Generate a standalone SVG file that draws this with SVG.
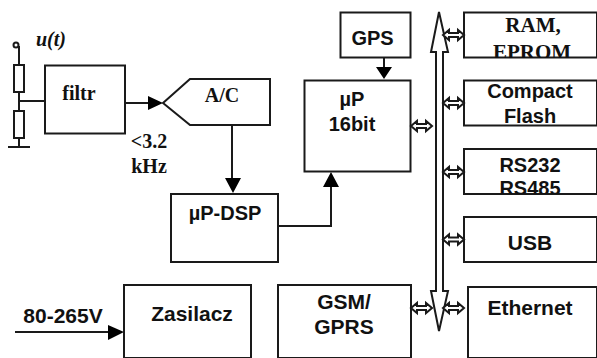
<svg xmlns="http://www.w3.org/2000/svg" width="597" height="358" viewBox="0 0 597 358">
<style>
.b{fill:#fff;stroke:#1a1a1a;stroke-width:2}
.l{fill:none;stroke:#1a1a1a;stroke-width:2}
.h{fill:#000;stroke:none}
.d{fill:#fff;stroke:#1a1a1a;stroke-width:2;stroke-linejoin:miter}
text{fill:#111;font-weight:bold;text-anchor:middle}
.s{font-family:"Liberation Sans",Arial,sans-serif;font-size:20px}
.s2{font-family:"Liberation Sans",Arial,sans-serif;font-size:21px}
.t{font-family:"Liberation Serif","Times New Roman",serif;font-size:20px}
.t2{font-family:"Liberation Serif","Times New Roman",serif;font-size:21px}
</style>
<defs>
<path id="da" d="M0 0l6-5v3h9v-3l6 5-6 5v-3h-9v3z"/>
<clipPath id="c1"><rect x="464" y="12" width="133" height="46"/></clipPath>
<clipPath id="c2"><rect x="464" y="149" width="133" height="45"/></clipPath>
</defs>
<g id="connectors">
<circle cx="16" cy="45" r="2.500" class="l"/>
<path class="l" d="M19 46V65M19 92V111M19 138V147M8 147H30M19 101H45M124 103H150M232 125V180M278 226H331V185M384 58V69"/>
<path class="h" d="M148 96L163 103L148 110zM225 178H241L233 193zM323 187H339L331 172zM376 67H392L384 79z"/>
<path class="l" d="M15 332H110"/>
<path class="h" d="M108 325L124 332L108 340z"/>
</g>
<g id="resistors"><rect class="b" x="14" y="65" width="10" height="27"/><rect class="b" x="14" y="111" width="10" height="27"/></g>
<g id="utlabel"><text x="51" y="46" font-style="italic" class="t">u(t)</text></g>
<g id="filtr"><rect class="b" x="45" y="65.500" width="80" height="68"/><text class="t" x="79" y="100">filtr</text></g>
<g id="bandlabel"><text class="t" x="149" y="148">&lt;3.2</text><text class="t" x="149" y="173">kHz</text></g>
<g id="ac"><path class="b" d="M163 103L190 79H270V125H190z"/><text class="t" x="222" y="102">A/C</text></g>
<g id="dsp"><rect class="b" x="171" y="194" width="107" height="68"/><text class="s" x="225" y="220">µP-DSP</text></g>
<g id="gps"><rect class="b" x="340.500" y="12.500" width="70" height="45"/><text class="s" x="372.500" y="45">GPS</text></g>
<g id="up"><rect class="b" x="304.500" y="80.500" width="106" height="91"/><text class="s" x="352" y="106">µP</text><text class="s" x="352" y="131">16bit</text></g>
<g id="bus"><path class="b" d="M439 12L448 52H443V291H448L439 331L431 291H436V52H431z"/></g>
<g id="ram"><rect class="b" x="464" y="12.500" width="133" height="45"/><g clip-path="url(#c1)"><text class="t2" x="533" y="32">RAM,</text><text class="t2" x="532" y="58.500">EPROM</text></g></g>
<g id="cf"><rect class="b" x="464" y="80.500" width="133" height="45"/><text class="s" x="530" y="98">Compact</text><text class="s" x="530" y="123">Flash</text></g>
<g id="rs"><rect class="b" x="464" y="149" width="133" height="45"/><g clip-path="url(#c2)"><text class="s" x="530" y="172">RS232</text><text class="s" x="530" y="195">RS485</text></g></g>
<g id="usb"><rect class="b" x="464" y="217" width="133" height="45"/><text class="s2" x="530" y="250">USB</text></g>
<g id="eth"><rect class="b" x="468" y="287" width="129" height="71"/><text class="s2" x="530" y="315">Ethernet</text></g>
<g id="gsm"><rect class="b" x="278" y="285" width="133" height="73"/><text class="s2" x="344" y="309">GSM/</text><text class="s2" x="344" y="334">GPRS</text></g>
<g id="zas"><rect class="b" x="124" y="285" width="127" height="73"/><text class="s2" x="192" y="321">Zasilacz</text></g>
<g id="vlabel"><text class="s2" x="63" y="323">80-265V</text></g>
<g id="bus-links">
<use href="#da" class="d" x="443" y="35"/><use href="#da" class="d" x="443" y="103"/><use href="#da" class="d" x="443" y="172"/><use href="#da" class="d" x="443" y="239.500"/><use href="#da" class="d" x="443" y="308"/><use href="#da" class="d" x="411" y="308"/><use href="#da" class="d" x="411" y="126"/>
</g>
</svg>
